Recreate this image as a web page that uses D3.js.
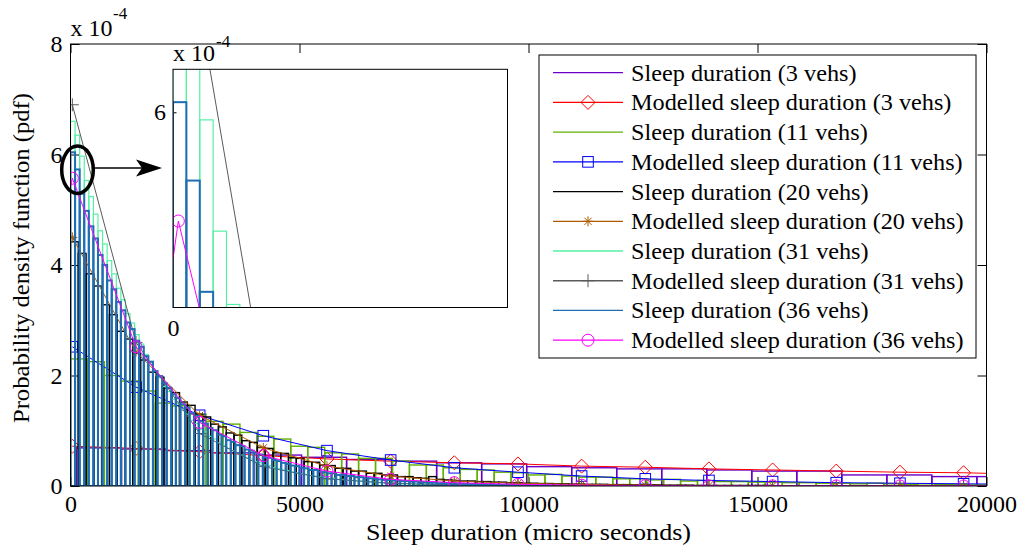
<!DOCTYPE html>
<html><head><meta charset="utf-8">
<script src="https://cdn.jsdelivr.net/npm/d3@7"></script>
<style>
body{margin:0;background:#fff}
text{font-family:"Liberation Serif","Times New Roman",serif;fill:#000}
</style>
</head><body>
<svg id="c" width="1032" height="547"></svg>
<script>
// ---------------- DATA ----------------
const xTicks = [0, 5000, 10000, 15000, 20000];
const yTicks = [0, 2, 4, 6, 8];
const insetXTicks = [0];
const insetYTicks = [6];

const legendLabels = [
  "Sleep duration (3 vehs)", "Modelled sleep duration (3 vehs)",
  "Sleep duration (11 vehs)", "Modelled sleep duration (11 vehs)",
  "Sleep duration (20 vehs)", "Modelled sleep duration (20 vehs)",
  "Sleep duration (31 vehs)", "Modelled sleep duration (31 vehs)",
  "Sleep duration (36 vehs)", "Modelled sleep duration (36 vehs)"
];

// histogram bin edges (micro seconds)
const hist3Start = 130,  hist3Width = 983;
const hist11Start = 0,   hist11Width = 370;
const hist20Start = 0,   hist20Width = 170;
const hist31Start = 0,   hist31Width = 100;
const hist36Start = 0,   hist36Width = 100;

// histogram heights (x 1e-4)
const hist3 = [0.69,0.67,0.64,0.60,0.56,0.52,0.48,0.45,0.42,0.40,0.35,0.33,0.31,0.31,0.29,0.27,0.27,0.20,0.20,0.17,0.17];
const hist11 = [2.30,2.25,2.00,1.90,1.72,1.50,1.45,1.30,1.17,1.12,0.97,0.90,0.85,0.72,0.70,0.60,0.58,0.50,0.50,0.45,0.38,0.38,0.33,0.30,0.29,0.25,0.24,0.20,0.21,0.18,0.16,0.16,0.13,0.13,0.11,0.12,0.09,0.10,0.08,0.08,0.07,0.07,0.06,0.06,0.05,0.05,0.04,0.05,0.04,0.03,0.04,0.03,0.03,0.02];
const hist20 = [4.42,4.21,3.84,3.62,3.28,3.10,2.80,2.66,2.40,2.28,2.06,1.97,1.77,1.69,1.52,1.46,1.30,1.25,1.12,1.07,0.96,0.92,0.82,0.79,0.70,0.68,0.60,0.59,0.51,0.50,0.44,0.43,0.38,0.37,0.32,0.32,0.27,0.27,0.23,0.23,0.20,0.20,0.17,0.17,0.15,0.14,0.17,0.12,0.11,0.10,0.09,0.09,0.08,0.08,0.07,0.07,0.06,0.06,0.05,0.05,0.045,0.045,0.04,0.04,0.035,0.035,0.03,0.03,0.03,0.025,0.025,0.025,0.02,0.02,0.02,0.02,0.015,0.015,0.015,0.015,0.01,0.01,0.01,0.01,0.01,0.01,0.01,0.01,0.01,0.01,0.005,0.005,0.005,0.005,0.005,0.005,0.005,0.005,0.005,0.005,0.005,0.005,0.005,0.005,0.005,0.005,0.005,0.005];
const hist31 = [6.60,6.35,5.97,5.53,5.24,4.92,4.62,4.38,4.08,3.84,3.58,3.37,3.12,2.95,2.74,2.57,2.38,2.25,2.08,1.96,1.80,1.71,1.57,1.49,1.37,1.30,1.19,1.13,1.03,0.98,0.90,0.85,0.78,0.74,0.68,0.64,0.59,0.56,0.51,0.49,0.44,0.42,0.38,0.37,0.33,0.32,0.29,0.28,0.25,0.24,0.22,0.21,0.19,0.18,0.16,0.16,0.14,0.14,0.12,0.12,0.10,0.10,0.09,0.09,0.08,0.07,0.07,0.06,0.06,0.05,0.05,0.05,0.04,0.04,0.04,0.03,0.03,0.03,0.03,0.02,0.02,0.02,0.02,0.02,0.015,0.015,0.01,0.01,0.01,0.01];
const hist36 = [6.04,5.73,5.29,4.98,4.70,4.48,4.18,4.00,3.72,3.56,3.33,3.18,2.96,2.84,2.63,2.52,2.35,2.25,2.08,1.99,1.86,1.78,1.66,1.59,1.48,1.42,1.32,1.27,1.17,1.13,1.05,1.01,0.93,0.90,0.83,0.80,0.74,0.72,0.66,0.64,0.59,0.57,0.52,0.51,0.47,0.45,0.42,0.40,0.37,0.36,0.33,0.32,0.29,0.29,0.26,0.25,0.23,0.23,0.20,0.20,0.18,0.18,0.16,0.16,0.14,0.14,0.13,0.12,0.11,0.11,0.10,0.10,0.09,0.09,0.08,0.08,0.07,0.07,0.06,0.06,0.05,0.05,0.05,0.04,0.04,0.04,0.035,0.035,0.03,0.03,0.03,0.025,0.025,0.02,0.02,0.02,0.02,0.015,0.015,0.015,0.01,0.01,0.01,0.01,0.01];

// modelled pdf sample points
const modelX = [40,1430,2820,4210,5600,6990,8380,9770,11160,12550,13940,15330,16720,18110,19500,20890];
const model3  = [0.72,0.68,0.62,0.55,0.49,0.45,0.42,0.40,0.36,0.34,0.31,0.29,0.27,0.25,0.24,0.21];
const model11 = [2.52,1.79,1.28,0.91,0.64,0.47,0.33,0.25,0.18,0.13,0.10,0.08,0.06,0.05,0.04,0.03];
const model20 = [4.50,2.43,1.28,0.69,0.36,0.18,0.09,0.05,0.03,0.015,0.01,0.005,0.003,0.002,0.001,0.001];
const model31 = [6.90,2.60,0.95,0.35,0.13,0.05,0.02,0.007,0.003,0.001,0,0,0,0,0,0];
const model36 = [5.57,2.52,1.15,0.55,0.27,0.12,0.06,0.03,0.015,0.007,0.003,0.002,0.001,0.001,0,0];
const model36StartX = 0, model36StartY = 5.42; // line begins before first marker

// ---------------- STYLE / LAYOUT ----------------
const C = {p3:"#6a00c8", r3:"#ff0000", g11:"#5fb000", b11:"#0000ff", k20:"#000000",
           br20:"#b05a00", a31:"#55f0a5", gr31:"#5a5a5a", b36:"#1f6db3", m36:"#ff00ff"};

const svg = d3.select("#c");
const X = d3.scaleLinear([0,20000],[70.5,986.5]);
const Y = d3.scaleLinear([0,8],[486,44]);
const XI = d3.scaleLinear([0,2500],[173,507.5]);
const YI = d3.scaleLinear([5.228,6.17],[307.5,69.3]);

const defs = svg.append("defs");
defs.append("clipPath").attr("id","clipMain").append("rect")
  .attr("x",X(0)).attr("y",Y(8)).attr("width",X(20000)-X(0)).attr("height",Y(0)-Y(8));
defs.append("clipPath").attr("id","clipInset").append("rect")
  .attr("x",XI(0)).attr("y",YI(6.17)).attr("width",XI(2500)-XI(0)).attr("height",YI(5.228)-YI(6.17));

const hists = [
  {v:hist3, s:hist3Start, w:hist3Width, c:C.p3, sw:1.4},
  {v:hist11, s:hist11Start, w:hist11Width, c:C.g11, sw:1.4},
  {v:hist20, s:hist20Start, w:hist20Width, c:C.k20, sw:1.4},
  {v:hist31, s:hist31Start, w:hist31Width, c:C.a31, sw:1.2},
  {v:hist36, s:hist36Start, w:hist36Width, c:C.b36, sw:2.0}
];
const models = [
  {v:model3, c:C.r3, m:"diamond"},
  {v:model11, c:C.b11, m:"square"},
  {v:model20, c:C.br20, m:"asterisk"},
  {v:model31, c:C.gr31, m:"plus"},
  {v:model36, c:C.m36, m:"circle"}
];

function marker(g, type, cx, cy, col){
  if(type==="diamond"){
    g.append("path").attr("d",`M${cx},${cy-7}L${cx+7},${cy}L${cx},${cy+7}L${cx-7},${cy}Z`)
      .attr("fill","none").attr("stroke",col).attr("stroke-width",1);
  } else if(type==="square"){
    g.append("rect").attr("x",cx-5.3).attr("y",cy-5.3).attr("width",10.6).attr("height",10.6)
      .attr("fill","none").attr("stroke",col).attr("stroke-width",1);
  } else if(type==="circle"){
    g.append("circle").attr("cx",cx).attr("cy",cy).attr("r",6)
      .attr("fill","none").attr("stroke",col).attr("stroke-width",1);
  } else if(type==="plus"){
    const r=6.5;
    g.append("path").attr("d",`M${cx-r},${cy}H${cx+r}M${cx},${cy-r}V${cy+r}`)
      .attr("stroke",col).attr("stroke-width",1).attr("fill","none");
  } else if(type==="asterisk"){
    const r=5, d=3.6;
    g.append("path").attr("d",`M${cx-r},${cy}H${cx+r}M${cx},${cy-r}V${cy+r}M${cx-d},${cy-d}L${cx+d},${cy+d}M${cx-d},${cy+d}L${cx+d},${cy-d}`)
      .attr("stroke",col).attr("stroke-width",1).attr("fill","none");
  }
}

function drawData(g, xs, ys){
  for(let i=0;i<5;i++){
    const h = hists[i];
    g.append("g").selectAll("rect").data(h.v).join("rect")
      .attr("x",(d,j)=>xs(h.s+j*h.w))
      .attr("width",(d,j)=>xs(h.s+(j+1)*h.w)-xs(h.s+j*h.w))
      .attr("y",d=>ys(d))
      .attr("height",d=>ys(0)-ys(d))
      .attr("fill","none").attr("stroke",h.c).attr("stroke-width",h.sw);
    const m = models[i];
    let pts = modelX.map((x,j)=>[x,m.v[j]]);
    const linePts = (i===4) ? [[model36StartX, model36StartY]].concat(pts) : pts;
    g.append("path").datum(linePts)
      .attr("d",d3.line().x(d=>xs(d[0])).y(d=>ys(d[1])))
      .attr("fill","none").attr("stroke",m.c).attr("stroke-width",1);
    const mg = g.append("g");
    pts.forEach(p=>marker(mg, m.m, xs(p[0]), ys(p[1]), m.c));
  }
}

// ---- main axes ticks (under data)
const ax = svg.append("g");
function styleAxis(sel){
  sel.select(".domain").remove();
  sel.selectAll("line").attr("stroke","#000");
  sel.selectAll("text").attr("font-size",24).attr("font-family",'"Liberation Serif","Times New Roman",serif').attr("fill","#000");
}
ax.append("g").attr("transform",`translate(0,${Y(0)})`)
  .call(d3.axisBottom(X).tickValues(xTicks).tickSize(-9).tickPadding(9).tickFormat(d3.format("d"))).call(styleAxis);
ax.append("g").attr("transform",`translate(0,${Y(8)})`)
  .call(d3.axisTop(X).tickValues(xTicks).tickSize(-9).tickFormat("")).call(styleAxis);
ax.append("g").attr("transform",`translate(${X(0)},0)`)
  .call(d3.axisLeft(Y).tickValues(yTicks).tickSize(-9).tickPadding(8).tickFormat(d3.format("d"))).call(styleAxis);
ax.append("g").attr("transform",`translate(${X(20000)},0)`)
  .call(d3.axisRight(Y).tickValues(yTicks).tickSize(-9).tickFormat("")).call(styleAxis);

// ---- main data
const main = svg.append("g").attr("clip-path","url(#clipMain)");
drawData(main, X, Y);

// main box
svg.append("rect").attr("x",X(0)).attr("y",Y(8)).attr("width",X(20000)-X(0)).attr("height",Y(0)-Y(8))
  .attr("fill","none").attr("stroke","#000").attr("stroke-width",1);

// exponent label
svg.append("text").attr("x",X(0)).attr("y",36).attr("font-size",24).text("x 10");
svg.append("text").attr("x",113).attr("y",19).attr("font-size",17).text("-4");

// axis titles
svg.append("text").attr("x",(X(0)+X(20000))/2).attr("y",540).attr("text-anchor","middle")
  .attr("font-size",24).attr("textLength",325).attr("lengthAdjust","spacingAndGlyphs")
  .text("Sleep duration (micro seconds)");
svg.append("text").attr("transform",`translate(29,258) rotate(-90)`).attr("text-anchor","middle")
  .attr("font-size",24).attr("textLength",330).attr("lengthAdjust","spacingAndGlyphs")
  .text("Probability density function (pdf)");

// ---- ellipse + arrow annotation
svg.append("ellipse").attr("cx",77.5).attr("cy",169.7).attr("rx",15.8).attr("ry",23.7)
  .attr("fill","none").attr("stroke","#000").attr("stroke-width",3.5);
svg.append("line").attr("x1",95).attr("y1",168).attr("x2",142).attr("y2",168)
  .attr("stroke","#000").attr("stroke-width",1.3);
svg.append("path").attr("d","M162,168L136,159.5L142,168L136,176.5Z").attr("fill","#000");

// ---- inset
svg.append("rect").attr("x",XI(0)).attr("y",YI(6.17)).attr("width",XI(2500)-XI(0)).attr("height",YI(5.228)-YI(6.17))
  .attr("fill","#fff");
const ia = svg.append("g");
ia.append("g").attr("transform",`translate(0,${YI(5.228)})`)
  .call(d3.axisBottom(XI).tickValues(insetXTicks).tickSize(-3.5).tickPadding(11).tickFormat(d3.format("d"))).call(styleAxis);
ia.append("g").attr("transform",`translate(${XI(0)},0)`)
  .call(d3.axisLeft(YI).tickValues(insetYTicks).tickSize(-3.5).tickPadding(7).tickFormat(d3.format("d"))).call(styleAxis);
const ins = svg.append("g").attr("clip-path","url(#clipInset)");
drawData(ins, XI, YI);
svg.append("rect").attr("x",XI(0)).attr("y",YI(6.17)).attr("width",XI(2500)-XI(0)).attr("height",YI(5.228)-YI(6.17))
  .attr("fill","none").attr("stroke","#000").attr("stroke-width",1);
svg.append("text").attr("x",XI(0)).attr("y",61).attr("font-size",24).text("x 10");
svg.append("text").attr("x",216).attr("y",47).attr("font-size",17).text("-4");

// ---- legend
const lg = svg.append("g");
lg.append("rect").attr("x",539).attr("y",55).attr("width",437).attr("height",303)
  .attr("fill","#fff").attr("stroke","#000").attr("stroke-width",1);
const legendStyle = [
  {c:C.p3, m:null}, {c:C.r3, m:"diamond"}, {c:C.g11, m:null}, {c:C.b11, m:"square"},
  {c:C.k20, m:null}, {c:C.br20, m:"asterisk"}, {c:C.a31, m:null}, {c:C.gr31, m:"plus"},
  {c:C.b36, m:null}, {c:C.m36, m:"circle"}
];
legendLabels.forEach((lab,i)=>{
  const cy = 72.7 + 29.72*i;
  const st = legendStyle[i];
  lg.append("line").attr("x1",553).attr("x2",623).attr("y1",cy).attr("y2",cy)
    .attr("stroke",st.c).attr("stroke-width",1.3);
  if(st.m) marker(lg, st.m, 588, cy, st.c);
  const t = lg.append("text").attr("x",631).attr("y",cy+8).attr("font-size",24).text(lab);
  const w = t.node().getComputedTextLength();
  t.attr("textLength", w*1.01).attr("lengthAdjust","spacingAndGlyphs");
});
</script>
</body></html>
